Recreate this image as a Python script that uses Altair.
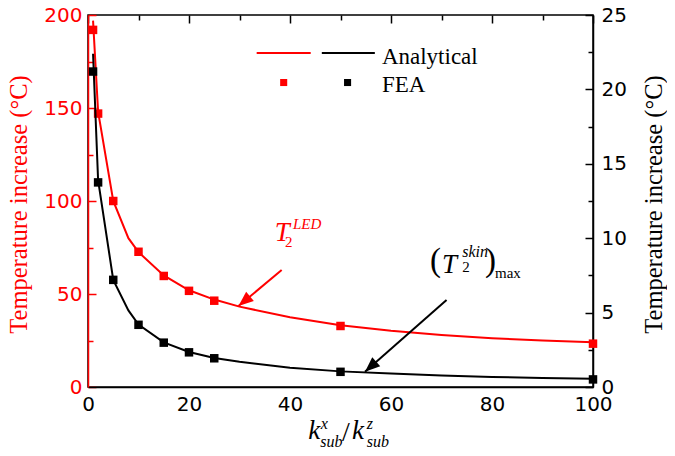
import math
import altair as alt
import pandas as pd

RED = "#ff0000"
BLACK = "#000000"

# ---- data ----
x_an = [1, 2, 5, 8, 10, 15, 20, 25, 30, 40, 50, 60, 70, 80, 90, 100]
led_an = [197, 148, 100, 80, 72.5, 60, 52, 47, 43.2, 37.5, 33.2, 30.2, 28, 26.2, 25, 24]
skin_an = [22.4, 13.9, 7.2, 5.15, 4.2, 3.0, 2.35, 1.95, 1.69, 1.3, 1.05, 0.9, 0.78, 0.68, 0.6, 0.55]

x_fea = [1, 2, 5, 10, 15, 20, 25, 50, 100]
led_fea = [192, 147, 100, 72.7, 59.7, 51.7, 46.4, 32.8, 23.3]
skin_fea = [21.2, 13.75, 7.2, 4.18, 2.98, 2.33, 1.93, 1.02, 0.51]

x_ticks = list(range(0, 101, 10))
left_ticks = list(range(0, 201, 25))
right_ticks = [i * 2.5 for i in range(11)]

W, H = 505, 372
XMAX, LMAX, RMAX = 100, 200, 25

xs = alt.Scale(domain=[0, XMAX], nice=False, zero=False)
ls = alt.Scale(domain=[0, LMAX], nice=False)
rs = alt.Scale(domain=[0, RMAX], nice=False)


def tick_dash(test, major, minor):
    return {"condition": {"test": test, "value": [major, 3000]}, "value": [minor, 3000]}


x_axis = alt.Axis(
    values=x_ticks,
    labelExpr="datum.value % 20 === 0 ? datum.label : ''",
    ticks=False, grid=True, gridColor=BLACK, gridWidth=1.5,
    gridDash=tick_dash("datum.value % 20 === 0", 8, 5),
    domainColor=BLACK, domainWidth=1.5,
    labelFont="DejaVu Sans", labelFontSize=20, labelColor=BLACK,
    labelPadding=7, labelFlush=False, labelOverlap=False,
    title="",
)

left_axis = alt.Axis(
    values=left_ticks,
    labelExpr="datum.value % 50 === 0 ? datum.label : ''",
    ticks=False, grid=True, gridColor=RED, gridWidth=1.5,
    gridDash=tick_dash("datum.value % 50 === 0", 8, 5),
    domainColor=RED, domainWidth=1.5,
    labelFont="DejaVu Sans", labelFontSize=20, labelColor=RED,
    labelPadding=6, labelFlush=False, labelOverlap=False,
    title="Temperature increase (°C)", titleColor=RED,
    titleFont="Liberation Serif", titleFontSize=24.5, titleFontWeight="normal",
    titleAngle=270, titleBaseline="middle", titleAlign="center",
    titleX=-69, titleY=189,
)

right_axis = alt.Axis(
    orient="right",
    values=right_ticks,
    labelExpr="datum.value % 5 === 0 ? datum.label : ''",
    ticks=False, grid=True, gridColor=BLACK, gridWidth=1.5,
    gridDash=tick_dash("datum.value % 5 === 0", 8, 5),
    domainColor=BLACK, domainWidth=1.5,
    labelFont="DejaVu Sans", labelFontSize=20, labelColor=BLACK,
    labelPadding=8, labelFlush=False, labelOverlap=False,
    title="Temperature increase (°C)", titleColor=BLACK,
    titleFont="Liberation Serif", titleFontSize=24.5, titleFontWeight="normal",
    titleAngle=270, titleBaseline="middle", titleAlign="center",
    titleX=61, titleY=189,
)


def X(f="x"):
    return alt.X(f"{f}:Q", scale=xs, axis=x_axis)


def YL(f="v"):
    return alt.Y(f"{f}:Q", scale=ls, axis=left_axis)


def YR(f="r"):
    return alt.Y(f"{f}:Q", scale=rs, axis=right_axis)


# ---- LED (left axis, red) ----
led_line_df = pd.DataFrame({"x": x_an, "v": led_an})
led_pts_df = pd.DataFrame({"x": x_fea, "v": led_fea})
led_line = alt.Chart(led_line_df).mark_line(color=RED, strokeWidth=2).encode(x=X(), y=YL())
led_pts = alt.Chart(led_pts_df).mark_square(color=RED, size=72, opacity=1).encode(x=X(), y=YL())

# ---- skin (right axis, black) ----
skin_line_df = pd.DataFrame({"x": x_an, "r": skin_an})
skin_pts_df = pd.DataFrame({"x": x_fea, "r": skin_fea})
skin_line = alt.Chart(skin_line_df).mark_line(color=BLACK, strokeWidth=2).encode(x=X(), y=YR())
skin_pts = alt.Chart(skin_pts_df).mark_square(color=BLACK, size=72, opacity=1).encode(x=X(), y=YR())

# ---- arrows (in left-axis units) ----
HEAD = "M0,0 L-0.4,1 L0.4,1 Z"


def arrow(tail, tip, color):
    dx = (tip[0] - tail[0]) * W / XMAX
    dy = -(tip[1] - tail[1]) * H / LMAX
    ang = (math.degrees(math.atan2(dx, -dy)) + 360) % 360
    df = pd.DataFrame({"x": [tail[0]], "v": [tail[1]], "x2": [tip[0]], "v2": [tip[1]]})
    shaft = alt.Chart(df).mark_rule(color=color, strokeWidth=2).encode(
        x=X(), y=YL(), x2="x2:Q", y2="v2:Q")
    hd = pd.DataFrame({"x": [tip[0]], "v": [tip[1]]})
    head = alt.Chart(hd).mark_point(shape=HEAD, filled=True, fill=color, color=color,
                                    size=900, angle=round(ang, 1), opacity=1,
                                    strokeWidth=0).encode(x=X(), y=YL())
    return [shaft, head]


# ---- texts ----
def txt(x, v, text, size, color=BLACK, style="normal", font="Liberation Serif",
        align="left", baseline="alphabetic"):
    df = pd.DataFrame({"x": [x], "v": [v], "t": [text]})
    return alt.Chart(df).mark_text(
        align=align, baseline=baseline, fontSize=size, fontStyle=style, font=font,
        color=color).encode(x=X(), y=YL(), text="t:N")


texts = [
    # T2^LED
    txt(37.0, 78.5, "T", 27, RED, "italic"),
    txt(40.6, 84.8, "LED", 15, RED, "italic"),
    txt(39.0, 75.4, "2", 15, RED),
    # (T2^skin)max
    txt(67.7, 67.5, "(", 33, BLACK, baseline="middle"),
    txt(70.1, 61.3, "T", 27, BLACK, "italic"),
    txt(74.1, 70.0, "skin", 16, BLACK, "italic"),
    txt(74.1, 62.0, "2", 15, BLACK),
    txt(78.6, 67.5, ")", 33, BLACK, baseline="middle"),
    txt(80.6, 58.5, "max", 15, BLACK),
    # x axis title  k^x_sub / k^z_sub
    txt(43.6, -28.0, "k", 27, BLACK, "italic"),
    txt(46.1, -22.6, "x", 16, BLACK, "italic"),
    txt(46.0, -32.3, "sub", 16, BLACK, "italic"),
    txt(50.3, -29.0, "/", 28, BLACK),
    txt(52.3, -28.0, "k", 27, BLACK, "italic"),
    txt(55.2, -22.6, "z", 16, BLACK, "italic"),
    txt(55.2, -32.3, "sub", 16, BLACK, "italic"),
    # legend labels
    txt(58.2, 173.7, "Analytical", 23, BLACK),
    txt(58.2, 158.5, "FEA", 23, BLACK),
]

# ---- legend symbols ----
leg_lines = pd.DataFrame({"x": [33.4, 46.3], "x2": [44.1, 56.8], "v": [179.6, 179.6],
                          "c": ["Analytical LED", "Analytical skin"]})
leg_line = alt.Chart(leg_lines).mark_rule(strokeWidth=2).encode(
    x=X(), x2="x2:Q", y=YL(),
    color=alt.Color("c:N", scale=alt.Scale(domain=["Analytical LED", "Analytical skin"],
                                           range=[RED, BLACK]), legend=None))
leg_sq = pd.DataFrame({"x": [38.75, 51.4], "v": [163.7, 163.7], "c": ["FEA LED", "FEA skin"]})
leg_pts = alt.Chart(leg_sq).mark_square(size=50, opacity=1).encode(
    x=X(), y=YL(),
    color=alt.Color("c:N", scale=alt.Scale(domain=["FEA LED", "FEA skin"],
                                           range=[RED, BLACK]), legend=None))

left_layer = alt.layer(
    led_line, led_pts,
    *arrow((38.35, 62.9), (29.8, 43.5), RED),
    *arrow((71.0, 46.8), (54.85, 8.2), BLACK),
    leg_line, leg_pts, *texts,
).resolve_scale(color="independent")

right_layer = alt.layer(skin_line, skin_pts)

chart = (
    alt.layer(left_layer, right_layer)
    .resolve_scale(y="independent")
    .properties(width=W, height=H,
                autosize=alt.AutoSizeParams(type="none"),
                padding={"left": 80, "top": 7, "right": 74, "bottom": 61},
                background="white")
    .configure_view(stroke=BLACK, strokeWidth=1.5)
)

chart.save("out.html", embed_options={"renderer": "svg", "actions": False})
